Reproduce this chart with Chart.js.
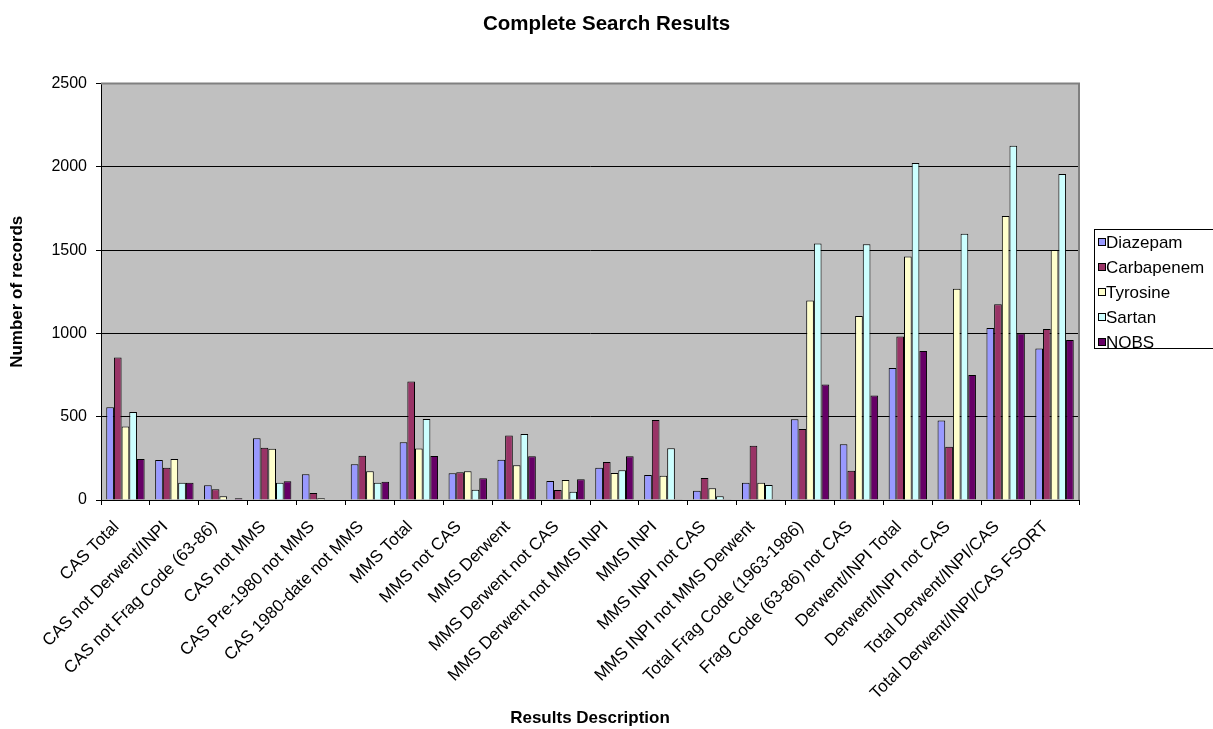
<!DOCTYPE html>
<html>
<head>
<meta charset="utf-8">
<title>Complete Search Results</title>
<script src="https://cdn.jsdelivr.net/npm/chart.js@4.4.1/dist/chart.umd.min.js"></script>
<style>
  html, body { margin: 0; padding: 0; background: #fff; }
  #wrap { width: 1213px; height: 729px; overflow: hidden; }
</style>
</head>
<body>
<div id="wrap"><canvas id="searchChart" width="1213" height="729"></canvas></div>
<script>
const categories = [
  "CAS Total", "CAS not Derwent/INPI", "CAS not Frag Code (63-86)", "CAS not MMS",
  "CAS Pre-1980 not MMS", "CAS 1980-date not MMS", "MMS Total", "MMS not CAS",
  "MMS Derwent", "MMS Derwent not CAS", "MMS Derwent not MMS INPI", "MMS INPI",
  "MMS INPI not CAS", "MMS INPI not MMS Derwent", "Total Frag Code (1963-1986)",
  "Frag Code (63-86) not CAS", "Derwent/INPI Total", "Derwent/INPI not CAS",
  "Total Derwent/INPI/CAS", "Total Derwent/INPI/CAS FSORT"
];

const diazepam   = [557, 240, 88, 371, 154, 214, 347, 160, 242, 114, 194, 150, 56, 104, 485, 335, 793, 477, 1032, 909];
const carbapenem = [855, 194, 64, 313, 42, 266, 711, 166, 387, 60, 228, 481, 132, 325, 427, 176, 981, 319, 1176, 1026];
const tyrosine   = [441, 246, 22, 307, 10, 172, 309, 172, 208, 120, 162, 146, 70, 104, 1198, 1104, 1462, 1268, 1705, 1501];
const sartan     = [529, 104, 0, 104, 0, 104, 487, 62, 397, 50, 178, 311, 22, 90, 1540, 1535, 2024, 1599, 2127, 1957];
const nobs       = [246, 104, 10, 112, 0, 110, 264, 130, 263, 124, 263, 4, 4, 4, 693, 627, 894, 751, 1000, 960];

const yTicks = [0, 500, 1000, 1500, 2000, 2500];

const FONT = "'Liberation Sans', Arial, sans-serif";

// grey plot area, grey frame on top/right
const plotArea = {
  id: "plotArea",
  beforeDraw(chart) {
    const { ctx, chartArea: a } = chart;
    ctx.save();
    ctx.fillStyle = "#fff";
    ctx.fillRect(0, 0, chart.width, chart.height);
    ctx.fillStyle = "#c0c0c0";
    ctx.fillRect(a.left, a.top, a.right - a.left, a.bottom - a.top);
    ctx.restore();
  },
  beforeDatasetsDraw(chart) {
    const { ctx, chartArea: a } = chart;
    ctx.save();
    ctx.strokeStyle = "#808080";
    ctx.lineWidth = 2;
    ctx.beginPath();
    ctx.moveTo(a.left, a.top);
    ctx.lineTo(a.right, a.top);
    ctx.lineTo(a.right, a.bottom);
    ctx.stroke();
    ctx.restore();
  }
};

// boxed legend on the right, like the old office charts
const boxLegend = {
  id: "boxLegend",
  afterDraw(chart) {
    const ctx = chart.ctx;
    const sets = chart.data.datasets;
    ctx.save();
    ctx.strokeStyle = "#000";
    ctx.lineWidth = 1;
    ctx.strokeRect(1094.5, 229.5, 140, 119);
    ctx.font = "17px " + FONT;
    ctx.textBaseline = "alphabetic";
    ctx.textAlign = "left";
    sets.forEach((ds, i) => {
      const cy = 242 + i * 25;
      ctx.fillStyle = ds.backgroundColor;
      ctx.fillRect(1098.5, cy - 3.5, 7, 7);
      ctx.strokeRect(1098.5, cy - 3.5, 7, 7);
      ctx.fillStyle = "#000";
      ctx.fillText(ds.label, 1106, cy + 6);
    });
    ctx.restore();
  }
};

function renderChart() {
  const ctx = document.getElementById("searchChart").getContext("2d");

  new Chart(ctx, {
    type: "bar",
    data: {
      labels: categories,
      datasets: [
        { label: "Diazepam", data: diazepam, backgroundColor: "#9999ff" },
        { label: "Carbapenem", data: carbapenem, backgroundColor: "#993366" },
        { label: "Tyrosine", data: tyrosine, backgroundColor: "#ffffcc" },
        { label: "Sartan", data: sartan, backgroundColor: "#ccffff" },
        { label: "NOBS", data: nobs, backgroundColor: "#660066" }
      ]
    },
    options: {
      responsive: false,
      animation: false,
      layout: { padding: 0 },
      datasets: {
        bar: {
          categoryPercentage: 0.785,
          barPercentage: 1,
          borderWidth: 1,
          borderColor: "#000"
        }
      },
      plugins: {
        legend: { display: false },
        tooltip: { enabled: false },
        title: {
          display: true,
          text: "Complete Search Results",
          color: "#000",
          font: { family: FONT, size: 20.5, weight: "bold" },
          padding: { top: 12, bottom: 47 }
        }
      },
      scales: {
        x: {
          grid: { offset: true, drawOnChartArea: false, drawTicks: true, tickLength: 5, color: "#000" },
          border: { color: "#000", width: 1 },
          ticks: {
            autoSkip: false,
            minRotation: 45,
            maxRotation: 45,
            padding: 12,
            labelOffset: -9,
            color: "#000",
            font: { family: FONT, size: 17 }
          },
          title: {
            display: true,
            text: "Results Description",
            color: "#000",
            font: { family: FONT, size: 17, weight: "bold" },
            padding: { top: 0, bottom: 0 }
          },
          afterFit(scale) { scale.height = 229; }
        },
        y: {
          min: yTicks[0],
          max: yTicks[yTicks.length - 1],
          afterBuildTicks(scale) { scale.ticks = yTicks.map(v => ({ value: v })); },
          grid: { color: "#000", tickLength: 5 },
          border: { color: "#000", width: 1 },
          ticks: {
            padding: 9,
            color: "#000",
            font: { family: FONT, size: 16 },
            callback: v => String(v)
          },
          title: {
            display: true,
            text: "Number of records",
            color: "#000",
            font: { family: FONT, size: 17, weight: "bold" },
            padding: { top: 7, bottom: 0 }
          },
          afterFit(scale) { scale.width = 101; }
        },
        // empty strip on the right that leaves room for the legend box
        legendRoom: {
          type: "linear",
          position: "right",
          grid: { display: false },
          border: { display: false },
          ticks: { display: false },
          afterFit(scale) { scale.width = 134; }
        }
      }
    },
    plugins: [plotArea, boxLegend]
  });
}

document.addEventListener("DOMContentLoaded", () => {
  renderChart();
});
</script>
</body>
</html>
